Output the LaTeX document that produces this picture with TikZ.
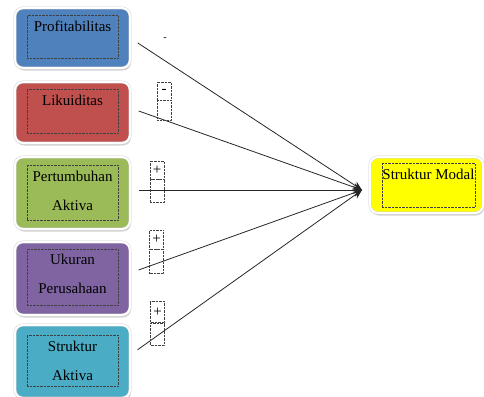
\documentclass[tikz,border=0pt]{standalone}
\usepackage{fontspec}
\setmainfont{Liberation Serif}
\usetikzlibrary{positioning,arrows.meta,shadows}

\definecolor{profblue}{RGB}{79,129,189}
\definecolor{likured}{RGB}{192,80,77}
\definecolor{pertgreen}{RGB}{155,187,89}
\definecolor{ukurpurple}{RGB}{128,100,162}
\definecolor{strkcyan}{RGB}{75,172,198}
\definecolor{modalyellow}{RGB}{255,255,0}

\begin{document}
\begin{tikzpicture}[x=1pt,y=-1pt,
  varbox/.style={rounded corners=8pt,draw=black!20,double=white,double distance=2pt,
    minimum width=115pt,drop shadow={shadow xshift=1pt,shadow yshift=-2.5pt,opacity=0.35}},
  frame/.style={draw=black!75,densely dotted,inner sep=0pt,minimum width=91pt,anchor=north,
    align=center,text height=16pt,font=\fontsize{15}{29}\selectfont},
  sign/.style={draw=black!75,densely dotted,inner sep=0pt,minimum width=14pt,minimum height=18pt,
    font=\fontsize{15}{15}\selectfont},
  link/.style={draw=black!85,line width=0.8pt,shorten <=9pt,-{Stealth[length=9pt,width=8pt]}}]

\useasboundingbox (0,0) rectangle (484,396);

% variabel independen
\node[varbox,fill=profblue,minimum height=60pt] (prof) at (72.5,38) {};
\node[frame,text depth=27pt] (proft) at (72.5,15) {Profitabilitas};

\node[varbox,fill=likured,minimum height=61pt] (liku) at (72.5,112.5) {};
\node[frame,text depth=28pt] (likut) at (72.5,89) {Likuiditas};

\node[varbox,fill=pertgreen,minimum height=72pt] (pert) at (72.5,193) {};
\node[frame,text height=45pt,text depth=10pt] (pertt) at (72.5,165) {Pertumbuhan\\Aktiva};

\node[varbox,fill=ukurpurple,minimum height=73pt] (ukur) at (72.5,278.5) {};
\node[frame,text height=44pt,text depth=12pt] (ukurt) at (72.5,249) {Ukuran\\Perusahaan};

\node[varbox,fill=strkcyan,minimum height=73pt] (strk) at (72.5,361.5) {};
\node[frame,text height=45pt,text depth=6pt] (strkt) at (72.5,335) {Struktur\\Aktiva};

% variabel dependen
\node[varbox,fill=modalyellow,minimum width=113pt,minimum height=56pt] (modal) at (426.5,185) {};
\node[frame,minimum width=93pt,text depth=28pt] (modalt) at (428.5,163) {Struktur Modal};

\coordinate (tip) at (362,190);

\draw[link] (prof.east) -- (tip);
\draw[link] ([yshift=4.5pt]liku.east) -- (tip);
\draw[link] ([yshift=3pt]pert.east) -- (tip);
\draw[link] ([yshift=5.5pt]ukur.east) -- (tip);
\draw[link] ([yshift=6.5pt]strk.east) -- (tip);

% tanda
\node[font=\fontsize{10}{10}\selectfont] (sgnprof) at (165,39) {-};
\node[sign] (sgnliku) at (164,91) {-};
\node[sign,minimum height=20pt,below=0pt of sgnliku] (sgnlikub) {};
\node[sign] (sgnpert) at (157,170) {+};
\node[sign,minimum height=23pt,below=0pt of sgnpert] (sgnpertb) {};
\node[sign,minimum height=19pt] (sgnukur) at (156.5,239.5) {+};
\node[sign,minimum height=24pt,below=0pt of sgnukur] (sgnukurb) {};
\node[sign,minimum height=21pt] (sgnstrk) at (157.5,312) {+};
\node[sign,minimum height=22pt,below=0pt of sgnstrk] (sgnstrkb) {};

\end{tikzpicture}
\end{document}
